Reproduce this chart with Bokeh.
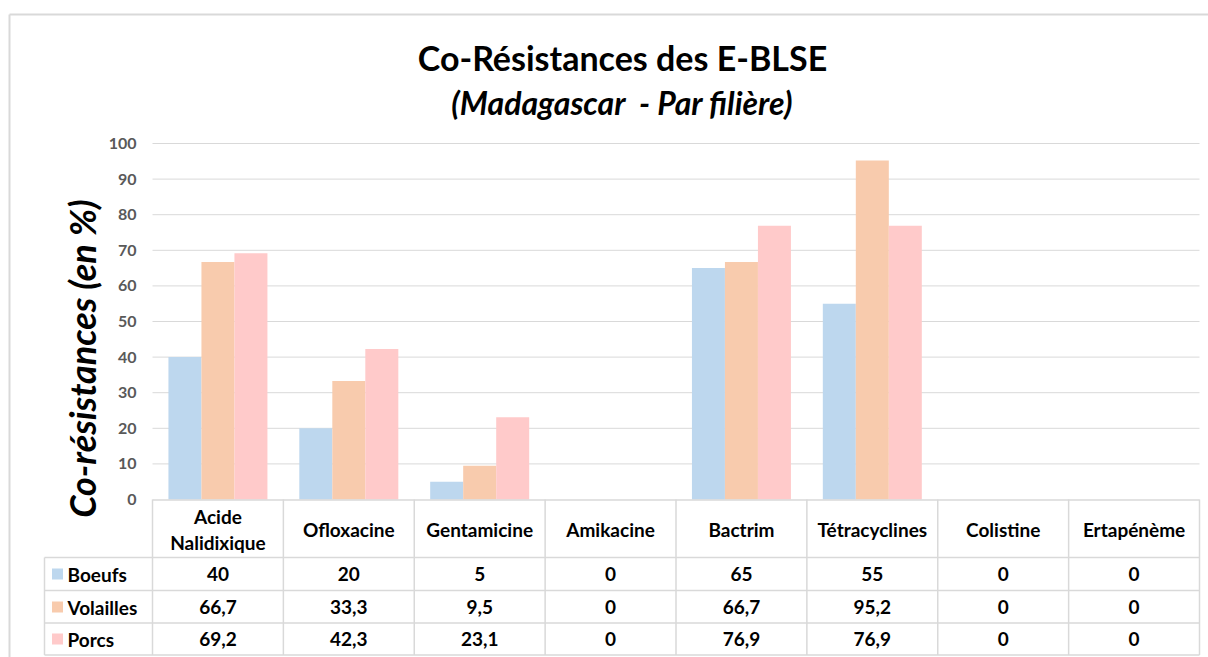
from bokeh.plotting import figure
from bokeh.models import Range1d
from bokeh.core.properties import value
from bokeh.embed import file_html
from bokeh.resources import INLINE
import math

# ---------------- data ----------------
categories = ["Acide\nNalidixique", "Ofloxacine", "Gentamicine", "Amikacine",
              "Bactrim", "Tétracyclines", "Colistine", "Ertapénème"]
series_names = ["Boeufs", "Volailles", "Porcs"]
boeufs = [40, 20, 5, 0, 65, 55, 0, 0]
volailles = [66.7, 33.3, 9.5, 0, 66.7, 95.2, 0, 0]
porcs = [69.2, 42.3, 23.1, 0, 76.9, 76.9, 0, 0]
y_ticks = [0, 10, 20, 30, 40, 50, 60, 70, 80, 90, 100]
title_text = "Co-Résistances des E-BLSE"
subtitle_text = "(Madagascar \u00a0- Par filière)"
ylabel_text = "Co-résistances (en %)"

colors = ["#BDD7EE", "#F8CBAD", "#FFCACA"]
FONT = "Lato"

# ---------------- layout (page pixels -> data) ----------------
ORG = 0.0                                 # page px of figure's top-left corner
X0, XPU = 152.0, (1199.0 - 152.0) / 8.0   # x=0 at page px 152, px per category
Y0, YPU = 499.0, (499.0 - 143.0) / 100.0  # y=0 at page px 499, px per unit

def dx(px):
    return (px - X0) / XPU

def dy(py):
    return (Y0 - py) / YPU

W, H = 1208, 657
p = figure(width=W, height=H, output_backend="svg", toolbar_location=None,
           x_range=Range1d(dx(ORG), dx(ORG + W)), y_range=Range1d(dy(ORG + H), dy(ORG)),
           x_axis_type=None, y_axis_type=None, min_border=0,
           outline_line_color=None)
p.xgrid.visible = False
p.ygrid.visible = False
p.background_fill_color = "white"
p.border_fill_color = "white"

n = len(categories)
grid_c = "#D9D9D9"

# outer chart border
p.segment(x0=[dx(9), dx(9)], y0=[dy(14), dy(14)], x1=[dx(9), dx(1215)], y1=[dy(665), dy(14)],
          line_color=grid_c, line_width=2)

# horizontal gridlines
gt = [t for t in y_ticks if t > 0]
p.segment(x0=[0] * len(gt), y0=gt, x1=[n] * len(gt), y1=gt, line_color=grid_c, line_width=1)

# bars
bw = 33.0 / XPU
for k, vals in enumerate([boeufs, volailles, porcs]):
    xs = [i + 0.5 + (k - 1) * bw for i in range(n)]
    p.vbar(x=xs, top=vals, bottom=0, width=bw, fill_color=colors[k], line_color=None)

# y tick labels
p.text(x=[dx(136)] * len(y_ticks), y=y_ticks, text=[str(t) for t in y_ticks],
       text_align="right", text_baseline="middle", text_font=value(FONT),
       text_font_size="16px", text_font_style="bold", text_color="#595959")

# data table lines
row_tops = [499.5, 557, 590, 622.5, 654.5]
tbl_bottom = dy(row_tops[-1])
p.segment(x0=[0] + [dx(44)] * 4, y0=[dy(r) for r in row_tops], x1=[n] * 5,
          y1=[dy(r) for r in row_tops], line_color=grid_c, line_width=1.5)
vx = list(range(n + 1))
p.segment(x0=vx, y0=[0] * len(vx), x1=vx, y1=[tbl_bottom] * len(vx),
          line_color=grid_c, line_width=1.5)
p.segment(x0=[dx(44)], y0=[dy(557)], x1=[dx(44)], y1=[tbl_bottom],
          line_color=grid_c, line_width=1.5)

# header labels
p.text(x=[i + 0.5 for i in range(n)], y=[dy(529)] * n, text=categories,
       text_align="center", text_baseline="middle", text_font=value(FONT),
       text_font_size="19px", text_font_style="bold", text_color="#000000",
       text_line_height=1.12)

def fmt(v):
    if float(v).is_integer():
        return str(int(v))
    return ("%.1f" % v).replace(".", ",")

row_centers = [573.5, 606.5, 638.5]
for k, vals in enumerate([boeufs, volailles, porcs]):
    yc = dy(row_centers[k])
    p.text(x=[i + 0.5 for i in range(n)], y=[yc] * n, text=[fmt(v) for v in vals],
           text_align="center", text_baseline="middle", text_font=value(FONT),
           text_font_size="19px", text_font_style="bold", text_color="#000000")
    p.rect(x=[dx(57)], y=[yc], width=11 / XPU, height=11 / YPU,
           fill_color=colors[k], line_color=None)
    p.text(x=[dx(67)], y=[yc], text=[series_names[k]], text_align="left",
           text_baseline="middle", text_font=value(FONT), text_font_size="19px",
           text_font_style="bold", text_color="#000000")

# title & subtitle
p.text(x=[dx(622)], y=[dy(57)], text=[title_text], text_align="center",
       text_baseline="middle", text_font=value(FONT), text_font_size="34px",
       text_font_style="bold", text_color="#000000")
p.text(x=[dx(622)], y=[dy(102)], text=[subtitle_text], text_align="center",
       text_baseline="middle", text_font=value(FONT), text_font_size="32px",
       text_font_style="bold italic", text_color="#000000")

# y axis title
p.text(x=[dx(81)], y=[dy(358)], text=[ylabel_text], angle=math.pi / 2,
       text_align="center", text_baseline="middle", text_font=value(FONT),
       text_font_size="36px", text_font_style="bold italic", text_color="#000000")

open("out.html", "w").write(file_html(p, INLINE))
